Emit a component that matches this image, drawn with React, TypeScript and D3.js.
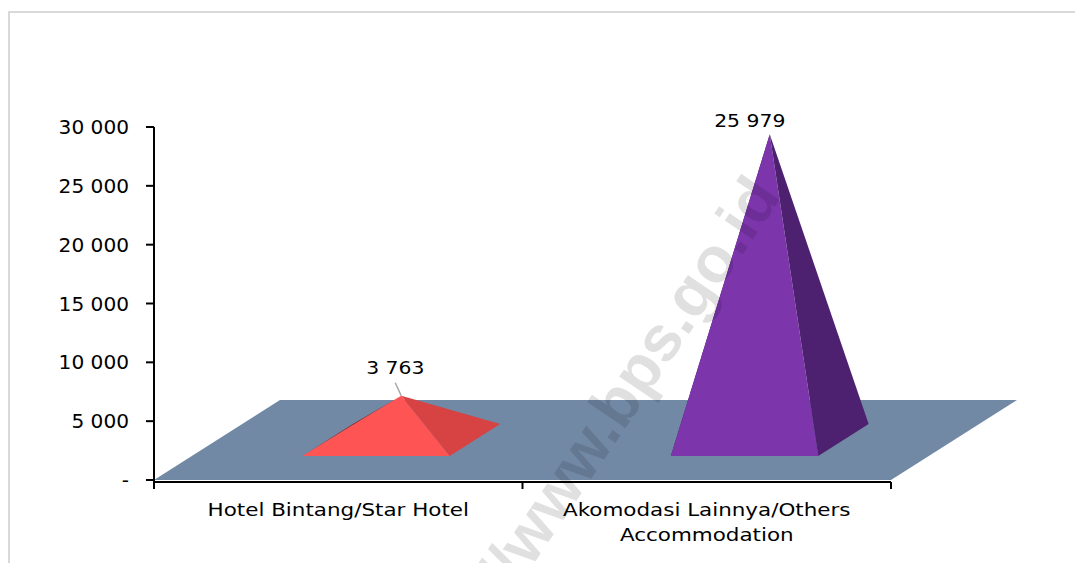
import React from "react";
import * as d3 from "d3";

const categories: string[][] = [
  ["Hotel Bintang/Star Hotel"],
  ["Akomodasi Lainnya/Others", "Accommodation"],
];
const values: number[] = [3763, 25979];
const yTicks: number[] = [0, 5000, 10000, 15000, 20000, 25000, 30000];
const frontColors = ["#FF5454", "#7D35AC"];
const sideColors = ["#D74242", "#4D2170"];
const leftColors = ["#9E2E2E", "#3A1856"];
const labelOffsets = [
  { dx: -6, dy: -22, leader: true },
  { dx: -20, dy: -7, leader: false },
];

const W = 1075;
const H = 563;
const X0 = 154;
const X1 = 891;
const Y0 = 480;
const Y1 = 127;
const DEPTH_DX = 126;
const DEPTH_DY = -80;
const FONT = "'DejaVu Sans', sans-serif";

const fmt = (v: number) => (v === 0 ? "-" : d3.format(",")(v).replace(/,/g, " "));

export default function App() {
  const x = d3
    .scaleBand<number>()
    .domain(values.map((_, i) => i))
    .range([X0, X1])
    .paddingInner(0)
    .paddingOuter(0);
  const y = d3.scaleLinear().domain([0, 30000]).range([Y0, Y1]);

  const proj = (px: number, d: number, v: number): [number, number] => [
    px + d * DEPTH_DX,
    y(v) + d * DEPTH_DY,
  ];
  const poly = (pts: [number, number][]) => d3.line()(pts.concat([pts[0]])) || "";

  const bw = x.bandwidth();
  const floor: [number, number][] = [
    proj(X0, 0, 0),
    proj(X1, 0, 0),
    proj(X1, 1, 0),
    proj(X0, 1, 0),
  ];

  return (
    <svg
      width={W}
      height={H}
      style={{ position: "absolute", left: 0, top: 0, background: "#fff" }}
    >
      <rect x={9} y={12} width={W + 20} height={H + 20} fill="#fff" stroke="#d9d9d9" strokeWidth={2} />

      {/* floor */}
      <path d={poly(floor)} fill="#7289A6" />

      {/* pyramids */}
      {values.map((v, i) => {
        const cx = (x(i) as number) + bw / 2;
        const half = bw * 0.2;
        const fl = proj(cx - half, 0.3, 0);
        const fr = proj(cx + half, 0.3, 0);
        const br = proj(cx + half, 0.7, 0);
        const bl = proj(cx - half, 0.7, 0);
        const apex = proj(cx, 0.5, v);
        return (
          <g key={i}>
            <path d={poly([fl, bl, apex])} fill={leftColors[i]} />
            <path d={poly([fl, fr, apex])} fill={frontColors[i]} />
            <path d={poly([fr, br, apex])} fill={sideColors[i]} />
          </g>
        );
      })}

      {/* watermark */}
      <text
        transform="translate(782,196) rotate(-56)"
        textAnchor="end"
        fontFamily="'Liberation Sans', Arial, sans-serif"
        fontWeight="bold"
        fontSize={64}
        fill="#000"
        fillOpacity={0.12}
      >
        https://www.bps.go.id
      </text>

      {/* data labels */}
      {values.map((v, i) => {
        const cx = (x(i) as number) + bw / 2;
        const apex = proj(cx, 0.5, v);
        const o = labelOffsets[i];
        const lx = apex[0] + o.dx;
        const ly = apex[1] + o.dy;
        return (
          <g key={i}>
            {o.leader && (
              <line
                x1={apex[0]}
                y1={apex[1]}
                x2={apex[0] - 6}
                y2={apex[1] - 13}
                stroke="#a6a6a6"
                strokeWidth={1.5}
              />
            )}
            <text
              transform={`translate(${lx},${ly}) scale(1.1,1)`}
              textAnchor="middle"
              fontFamily={FONT}
              fontSize={18.5}
              fill="#000"
            >
              {fmt(v)}
            </text>
          </g>
        );
      })}

      {/* y axis */}
      <line x1={X0} y1={Y1} x2={X0} y2={Y0 + 2} stroke="#000" strokeWidth={2} />
      {yTicks.map((t) => (
        <g key={t}>
          <line x1={X0 - 8} y1={y(t)} x2={X0} y2={y(t)} stroke="#000" strokeWidth={2} />
          <text
            transform={`translate(${X0 - 25},${y(t) + 7}) scale(1.06,1)`}
            textAnchor="end"
            fontFamily={FONT}
            fontSize={19}
            fill="#000"
          >
            {fmt(t)}
          </text>
        </g>
      ))}

      {/* x axis */}
      <line x1={X0 - 1} y1={Y0 + 2} x2={X1} y2={Y0 + 2} stroke="#000" strokeWidth={2} />
      {[X0, ...values.map((_, i) => (x(i) as number) + bw)].map((tx, k) => (
        <line key={k} x1={tx} y1={Y0 + 2} x2={tx} y2={Y0 + 9} stroke="#000" strokeWidth={2} />
      ))}
      {categories.map((lines, i) => {
        const cx = (x(i) as number) + bw / 2;
        return (
          <g key={i}>
            {lines.map((ln, j) => (
              <text
                key={j}
                transform={`translate(${cx},${516 + j * 25}) scale(1.16,1)`}
                textAnchor="middle"
                fontFamily={FONT}
                fontSize={18.5}
                fill="#000"
              >
                {ln}
              </text>
            ))}
          </g>
        );
      })}
    </svg>
  );
}
